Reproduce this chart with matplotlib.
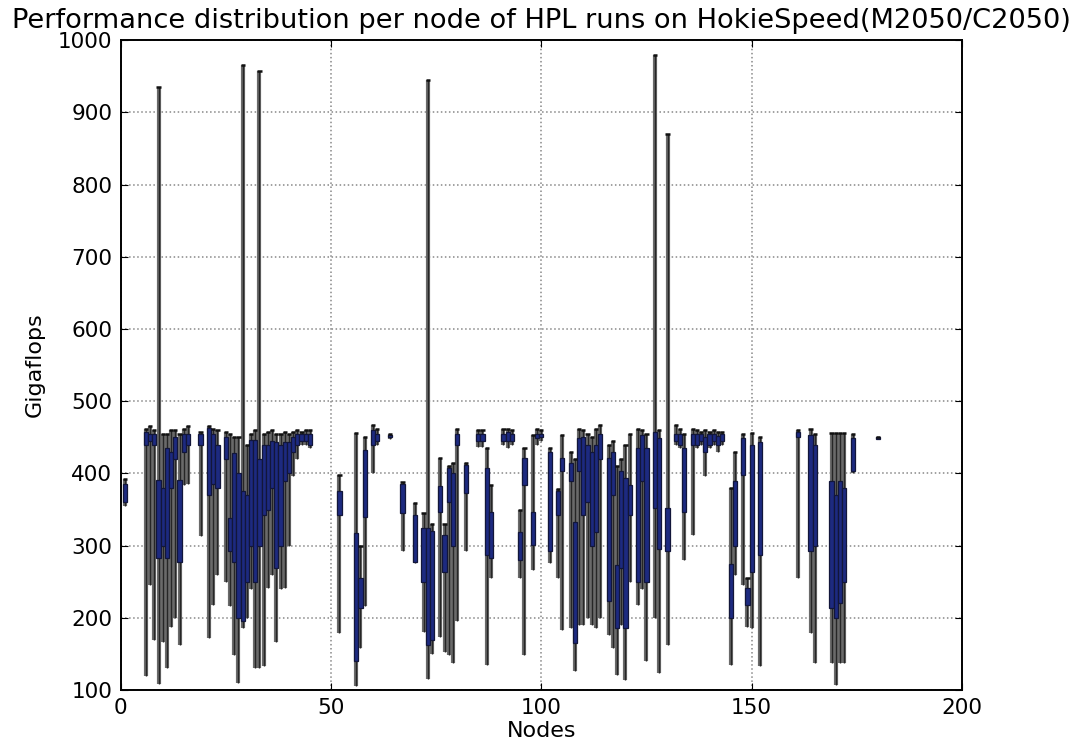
import matplotlib
matplotlib.use("Agg")
import matplotlib.pyplot as plt

# Per-node HPL results: whisker low, lower quartile, upper quartile, whisker high (Gigaflops)
nodes = [1, 6, 7, 8, 9, 10, 11, 12, 13, 14, 15, 16, 19, 21, 22, 23, 25, 26, 27, 28,
         29, 30, 31, 32, 33, 34, 35, 36, 37, 38, 39, 40, 41, 42, 43, 44, 45,
         52, 56, 57, 58, 60, 61, 64, 67, 70, 72, 73, 74, 76, 77, 78, 79, 80, 82,
         85, 86, 87, 88, 91, 92, 93, 95, 96, 98, 99, 100, 102, 104, 105, 107, 108,
         109, 110, 111, 112, 113, 114, 116, 117, 118, 119, 120, 121, 123, 124, 125,
         127, 128, 130, 132, 133, 134, 136, 137, 138, 139, 140, 141, 142, 143,
         145, 146, 148, 149, 150, 152, 161, 164, 165, 169, 170, 171, 172, 174, 180]
whis_lo = [355, 120, 245, 170, 108, 167, 130, 188, 200, 163, 384, 385, 313, 172, 218, 260, 250, 216, 149, 110,
           186, 200, 240, 130, 130, 133, 241, 260, 167, 240, 241, 300, 396, 420, 440, 440, 435,
           179, 105, 158, 216, 400, 440, 448, 292, 276, 180, 116, 150, 174, 153, 149, 137, 195, 292,
           437, 437, 135, 255, 440, 435, 440, 255, 149, 266, 440, 445, 276, 255, 183, 186, 126,
           190, 190, 200, 190, 186, 200, 176, 158, 121, 190, 114, 250, 218, 240, 140,
           200, 123, 163, 440, 435, 280, 315, 435, 440, 396, 435, 440, 430, 440,
           135, 260, 246, 188, 186, 133, 255, 179, 137, 137, 107, 137, 137, 400, 447]
q1 = [360, 440, 445, 440, 283, 300, 283, 380, 420, 278, 430, 440, 440, 370, 385, 380, 420, 292, 278, 200,
      195, 250, 300, 250, 300, 343, 350, 380, 269, 300, 389, 400, 430, 440, 445, 445, 440,
      343, 140, 213, 340, 440, 445, 450, 345, 278, 250, 163, 170, 347, 264, 361, 300, 440, 373,
      445, 445, 287, 283, 445, 445, 445, 280, 384, 301, 449, 450, 292, 343, 403, 389, 165,
      403, 343, 360, 300, 319, 420, 223, 370, 186, 269, 186, 343, 250, 389, 250,
      352, 296, 292, 445, 440, 347, 440, 440, 445, 430, 440, 445, 440, 445,
      200, 300, 398, 218, 264, 287, 450, 292, 300, 213, 200, 220, 250, 403, 448]
q3 = [385, 458, 455, 455, 391, 380, 435, 430, 450, 391, 455, 455, 455, 463, 455, 440, 450, 338, 428, 400,
      375, 370, 446, 446, 420, 440, 440, 445, 444, 440, 444, 444, 450, 455, 455, 455, 455,
      375, 317, 255, 433, 460, 455, 453, 386, 343, 324, 324, 320, 382, 315, 407, 400, 455, 412,
      455, 455, 407, 347, 455, 458, 455, 319, 421, 347, 455, 455, 430, 375, 421, 414, 333,
      449, 451, 440, 430, 440, 455, 421, 430, 273, 403, 393, 384, 435, 453, 435,
      458, 449, 352, 455, 455, 435, 455, 455, 455, 450, 455, 455, 452, 455,
      275, 390, 449, 241, 440, 444, 458, 453, 440, 389, 370, 389, 380, 449, 450]
whis_hi = [392, 462, 465, 460, 935, 455, 455, 460, 460, 455, 462, 465, 458, 465, 462, 460, 458, 455, 450, 450,
           965, 440, 455, 460, 957, 455, 458, 460, 455, 455, 458, 455, 458, 460, 458, 460, 460,
           398, 456, 300, 451, 467, 462, 455, 388, 359, 345, 945, 330, 421, 330, 410, 415, 462, 415,
           460, 460, 435, 384, 462, 462, 460, 349, 435, 453, 462, 460, 435, 379, 453, 430, 420,
           462, 460, 455, 450, 462, 467, 440, 445, 410, 420, 440, 455, 462, 460, 455,
           980, 460, 870, 467, 462, 455, 462, 460, 458, 460, 458, 460, 458, 458,
           380, 430, 455, 255, 456, 450, 460, 462, 455, 456, 456, 456, 456, 455, 451]

fig = plt.figure(figsize=(10.87, 7.42), dpi=100)
ax = fig.add_axes([0.111, 0.070, 0.774, 0.876])

# whiskers: gray body with a dark core
ax.vlines(nodes, whis_lo, whis_hi, colors="#6a6a6a", linewidth=3.0, zorder=2)
ax.vlines(nodes, whis_lo, whis_hi, colors="#262626", linewidth=1.0, zorder=2)

# boxes from lower to upper quartile
heights = [hi - lo for lo, hi in zip(q1, q3)]
ax.bar(nodes, heights, bottom=q1, width=1.0, color="#1d2a80",
       edgecolor="#12163a", linewidth=0.9, zorder=3)

# caps on top whiskers
ax.hlines(whis_hi, [n - 0.5 for n in nodes], [n + 0.5 for n in nodes],
          colors="#111111", linewidth=1.8, zorder=4)

ax.set_xlim(0, 200)
ax.set_ylim(100, 1000)
ax.set_xticks([0, 50, 100, 150, 200])
ax.set_yticks(range(100, 1001, 100))
ax.grid(True, linestyle=":", color="#888888", linewidth=1.1)
ax.set_axisbelow(True)
ax.tick_params(direction="in", top=True, right=True, labelsize=15.5, length=5, pad=6)
for s in ax.spines.values():
    s.set_linewidth(1.4)

ax.set_title("Performance distribution per node of HPL runs on HokieSpeed(M2050/C2050)",
             fontsize=19.6, pad=9)
ax.set_xlabel("Nodes", fontsize=16)
ax.set_ylabel("Gigaflops", fontsize=16)
ax.xaxis.set_label_coords(0.5, -0.048)
ax.xaxis.label.set_verticalalignment("top")
ax.yaxis.set_label_coords(-0.09, 0.5)

fig.savefig("out.png", dpi=100)
